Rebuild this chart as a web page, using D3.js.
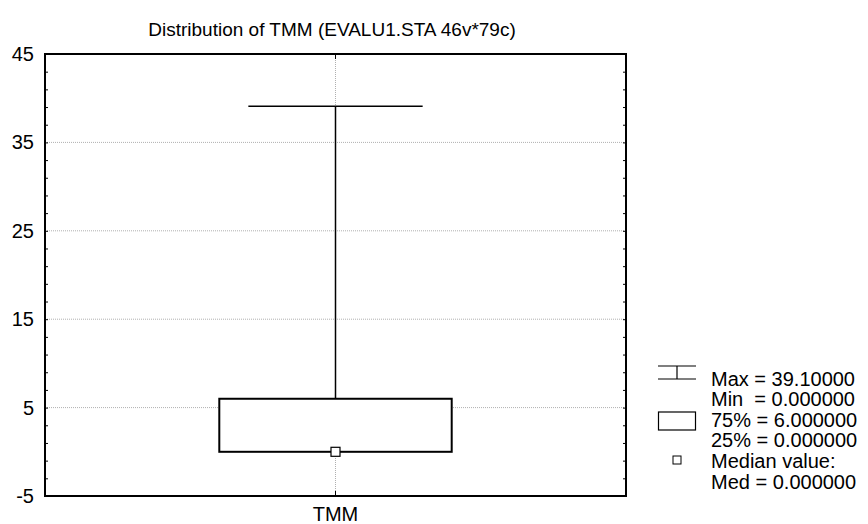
<!DOCTYPE html>
<html>
<head>
<meta charset="utf-8">
<script src="https://cdn.jsdelivr.net/npm/d3@7"></script>
<style>
  body { margin: 0; background: #fff; }
  svg { font-family: "Liberation Sans", Arial, sans-serif; }
</style>
</head>
<body>
<svg id="chart" width="868" height="524"></svg>
<script>
const categories = ["TMM"];
const maxValues = [39.1];
const minValues = [0];
const q75Values = [6];
const q25Values = [0];
const medianValues = [0];
const yTicks = [-5, 5, 15, 25, 35, 45];
const legendLines = ["Max = 39.10000", "Min  = 0.000000", "75% = 6.000000", "25% = 0.000000", "Median value:", "Med = 0.000000"];

const svg = d3.select("#chart");
const plotLeft = 45, plotRight = 626, plotTop = 54, plotBottom = 496;

const y = d3.scaleLinear().domain([-5, 45]).range([plotBottom, plotTop]);
const x = d3.scaleBand().domain(categories).range([plotLeft, plotRight]);
const minorTicks = d3.range(-5, 45.01, 2).filter(v => !yTicks.includes(v));

// title
svg.append("text")
    .attr("x", 332)
    .attr("y", 36)
    .attr("text-anchor", "middle")
    .style("font-size", "19px")
    .text("Distribution of TMM (EVALU1.STA 46v*79c)");

// grid
const grid = svg.append("g").attr("class", "grid");
grid.selectAll("line.h")
    .data(yTicks.filter(v => v > -5 && v < 45))
    .enter()
    .append("line")
    .attr("class", "h")
    .attr("x1", plotLeft).attr("x2", plotRight)
    .attr("y1", d => y(d)).attr("y2", d => y(d))
    .attr("stroke", "#b0b0b0")
    .attr("stroke-dasharray", "1,1");
grid.selectAll("line.v")
    .data(categories)
    .enter()
    .append("line")
    .attr("class", "v")
    .attr("x1", d => x(d) + x.bandwidth() / 2).attr("x2", d => x(d) + x.bandwidth() / 2)
    .attr("y1", plotTop).attr("y2", plotBottom)
    .attr("stroke", "#b0b0b0")
    .attr("stroke-dasharray", "1,1");

// axes
const gL = svg.append("g").attr("transform", `translate(${plotLeft},0)`)
    .call(d3.axisLeft(y).tickValues(yTicks).tickSize(-3).tickPadding(11).tickFormat(d => String(d)));
gL.select(".domain").remove();
gL.selectAll("text").style("font-size", "20px").attr("fill", "#000");
svg.append("g").attr("transform", `translate(${plotLeft},0)`)
    .call(d3.axisLeft(y).tickValues(minorTicks).tickSize(-3).tickFormat(""))
    .call(g => g.select(".domain").remove());

svg.append("g").attr("transform", `translate(${plotRight},0)`)
    .call(d3.axisRight(y).tickValues(yTicks.concat(minorTicks)).tickSize(-3).tickFormat(""))
    .call(g => g.select(".domain").remove());

const gB = svg.append("g").attr("transform", `translate(0,${plotBottom})`)
    .call(d3.axisBottom(x).tickSize(-5).tickPadding(11));
gB.select(".domain").remove();
gB.selectAll("text").style("font-size", "20px").attr("fill", "#000");
svg.append("g").attr("transform", `translate(0,${plotTop})`)
    .call(d3.axisTop(x).tickSize(-5).tickFormat(""))
    .call(g => g.select(".domain").remove());

// frame
svg.append("rect")
    .attr("x", plotLeft).attr("y", plotTop)
    .attr("width", plotRight - plotLeft).attr("height", plotBottom - plotTop)
    .attr("fill", "none")
    .attr("stroke", "#000")
    .attr("stroke-width", 2);

// box plot
const boxes = svg.append("g").selectAll("g")
    .data(categories.map((c, i) => ({ c, max: maxValues[i], min: minValues[i], q75: q75Values[i], q25: q25Values[i], med: medianValues[i] })))
    .enter()
    .append("g");
const cx = d => x(d.c) + x.bandwidth() / 2;
const boxW = x.bandwidth() * 0.4;
const capW = x.bandwidth() * 0.3;

boxes.append("line")
    .attr("x1", cx).attr("x2", cx)
    .attr("y1", d => y(d.max)).attr("y2", d => y(d.q75))
    .attr("stroke", "#000").attr("stroke-width", 1.5);
boxes.append("line")
    .attr("x1", d => cx(d) - capW / 2).attr("x2", d => cx(d) + capW / 2)
    .attr("y1", d => y(d.max)).attr("y2", d => y(d.max))
    .attr("stroke", "#000").attr("stroke-width", 1.5);
boxes.append("line")
    .attr("x1", cx).attr("x2", cx)
    .attr("y1", d => y(d.min)).attr("y2", d => y(d.q25))
    .attr("stroke", "#000").attr("stroke-width", 1.5);
boxes.append("rect")
    .attr("x", d => cx(d) - boxW / 2)
    .attr("y", d => y(d.q75))
    .attr("width", boxW)
    .attr("height", d => y(d.q25) - y(d.q75))
    .attr("fill", "#fff")
    .attr("stroke", "#000")
    .attr("stroke-width", 2);
boxes.append("rect")
    .attr("x", d => cx(d) - 4.5)
    .attr("y", d => y(d.med) - 4.5)
    .attr("width", 9).attr("height", 9)
    .attr("fill", "#fff")
    .attr("stroke", "#000")
    .attr("stroke-width", 1.2);

// legend
const legend = svg.append("g").attr("transform", "translate(658,0)");
legend.append("line").attr("x1", 0).attr("x2", 38).attr("y1", 366).attr("y2", 366).attr("stroke", "#000").attr("stroke-width", 1.2);
legend.append("line").attr("x1", 0).attr("x2", 38).attr("y1", 379).attr("y2", 379).attr("stroke", "#000").attr("stroke-width", 1.2);
legend.append("line").attr("x1", 19).attr("x2", 19).attr("y1", 366).attr("y2", 379).attr("stroke", "#000").attr("stroke-width", 1.2);
legend.append("rect").attr("x", 0.5).attr("y", 412).attr("width", 37).attr("height", 18).attr("fill", "#fff").attr("stroke", "#000").attr("stroke-width", 1.2);
legend.append("rect").attr("x", 15).attr("y", 456).attr("width", 8).attr("height", 8).attr("fill", "#fff").attr("stroke", "#000").attr("stroke-width", 1);

legend.selectAll("text")
    .data(legendLines)
    .enter()
    .append("text")
    .attr("x", 53)
    .attr("y", (d, i) => [386, 406, 427, 447, 468, 489][i])
    .style("font-size", "20px")
    .style("white-space", "pre")
    .text(d => d);
</script>
</body>
</html>
